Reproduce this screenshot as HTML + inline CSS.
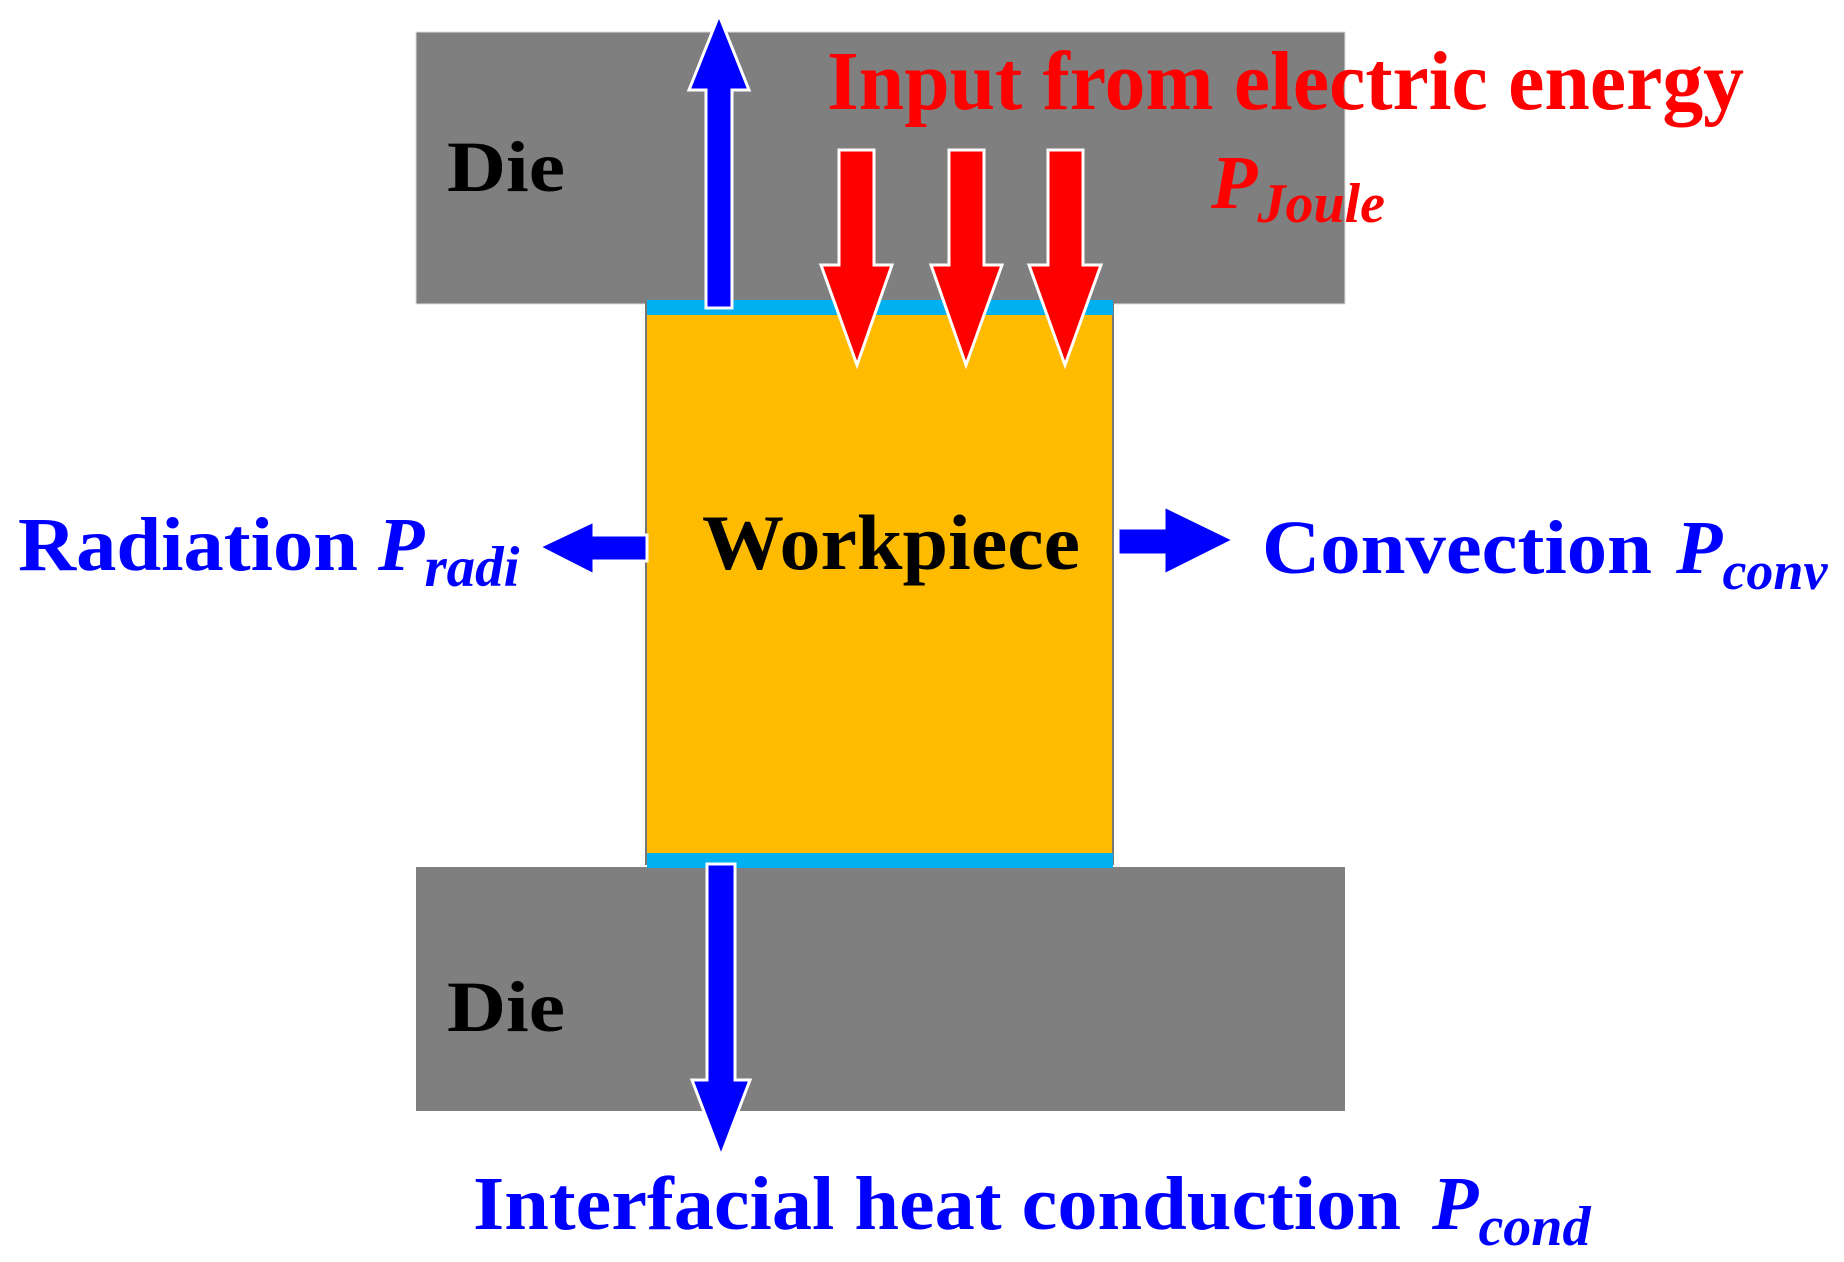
<!DOCTYPE html>
<html><head><meta charset="utf-8"><style>html,body{margin:0;padding:0;background:#fff}svg{display:block}</style></head>
<body>
<svg width="1844" height="1262" viewBox="0 0 1844 1262" xmlns="http://www.w3.org/2000/svg" font-family="'Liberation Serif', serif" font-weight="bold">
<rect x="416" y="32" width="929" height="272" fill="#7f7f7f" stroke="#ddd" stroke-width="1"/>
<rect x="416" y="867" width="929" height="244" fill="#7f7f7f"/>
<rect x="646" y="303" width="467" height="561" fill="#ffbb00" stroke="#777" stroke-width="2"/>
<rect x="647" y="300" width="466" height="15" fill="#00b0f0"/>
<rect x="647" y="853" width="466" height="15" fill="#00b0f0"/>
<g fill="#0000ff" stroke="#fff" stroke-width="3">
<polygon points="706,308 732,308 732,90 749,90 719,15 689,90 706,90"/>
<polygon points="707,864 735,864 735,1080 750,1080 721,1156 692,1080 707,1080"/>
<polygon points="647,535 594,535 594,521 539,547 594,575 594,561 647,561"/>
<polygon points="1118,528 1164,528 1164,506 1234,540 1164,575 1164,555 1118,555"/>
</g>
<g fill="#ff0000" stroke="#fff" stroke-width="3">
<polygon points="839,150 874,150 874,265 892,265 857,365 821,265 839,265"/>
<polygon points="949,150 984,150 984,265 1002,265 966,365 931,265 949,265"/>
<polygon points="1048,150 1083,150 1083,265 1101,265 1065,365 1029,265 1048,265"/>
</g>
<text x="447" y="191" font-size="72" fill="#000" textLength="118" lengthAdjust="spacingAndGlyphs">Die</text>
<text x="447" y="1031" font-size="72" fill="#000" textLength="118" lengthAdjust="spacingAndGlyphs">Die</text>
<text x="827" y="109" font-size="84" fill="#ff0000" textLength="917" lengthAdjust="spacingAndGlyphs">Input from electric energy</text>
<text x="1211" y="208" font-size="76" fill="#ff0000" font-style="italic">P<tspan font-size="56" dy="14">Joule</tspan></text>
<text x="702" y="569" font-size="78" fill="#000" textLength="378" lengthAdjust="spacingAndGlyphs">Workpiece</text>
<text x="18" y="570" font-size="76" fill="#0000ff" textLength="340" lengthAdjust="spacingAndGlyphs">Radiation</text>
<text x="378" y="570" font-size="76" fill="#0000ff" font-style="italic">P<tspan font-size="57" dy="16">radi</tspan></text>
<text x="1262" y="573" font-size="76" fill="#0000ff" textLength="390" lengthAdjust="spacingAndGlyphs">Convection</text>
<text x="1676" y="573" font-size="76" fill="#0000ff" font-style="italic">P<tspan font-size="54" dy="16">conv</tspan></text>
<text x="473" y="1229" font-size="76" fill="#0000ff" textLength="928" lengthAdjust="spacingAndGlyphs">Interfacial heat conduction</text>
<text x="1432" y="1229" font-size="76" fill="#0000ff" font-style="italic">P<tspan font-size="56" dy="16">cond</tspan></text>
</svg>
</body></html>
